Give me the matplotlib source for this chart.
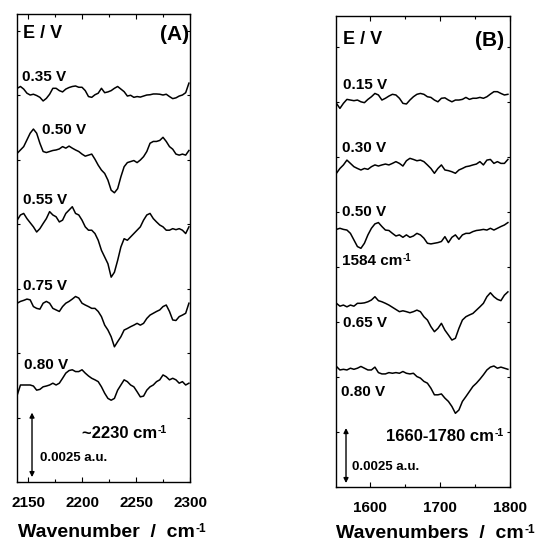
import numpy as np
import matplotlib
matplotlib.use("Agg")
import matplotlib.pyplot as plt
from matplotlib.ticker import MultipleLocator

plt.rcParams["font.family"] = ["Liberation Sans", "DejaVu Sans"]
plt.rcParams["font.weight"] = "bold"

# ---------------- Panel A: 2140-2300 cm-1 region ----------------
wn_a = np.arange(2140, 2301, 3)          # spectral sampling grid
labels_a = ["0.35 V", "0.50 V", "0.55 V", "0.75 V", "0.80 V"]
# stacking offsets (units of 1e-4 a.u.)
offsets_a = [151.2, 127.4, 102.8, 69.3, 37.6]
# delta absorbance, units of 1e-4 a.u.
dA_035 = [1.4, 2.1, 1.1, -0.5, -1.2, -0.9, -1.4, -2.1, -3.5, -2.5, -0.9, 1.4, 1.4, 0.5,
          0.0, 1.1, 1.7, 2.1, 2.3, 1.8, 1.8, 0.5, -1.8, -2.1, -1.1, -0.5, 1.4, -0.3,
          0.0, 0.5, 1.4, 2.1, 1.1, 0.1, -1.6, -1.3, -2.1, -1.8, -2.0, -1.6, -1.2, -1.1,
          -0.8, -0.8, -0.9, -1.2, -0.9, -1.8, -2.6, -2.3, -1.6, -1.2, -0.3, 3.4]
dA_050 = [0.0, 1.3, 2.6, 5.2, 7.8, 9.4, 7.8, 3.9, 0.7, 0.3, 0.7, 1.1, 1.3, 1.7,
          2.6, 2.0, 2.8, 2.0, 1.3, 0.7, -0.3, -1.1, -0.7, -0.3, -2.3, -4.6, -6.5, -7.8,
          -10.4, -14.3, -15.3, -13.7, -9.1, -5.2, -3.6, -3.2, -2.8, -3.6, -2.6, -1.3, 0.7, 3.9,
          4.6, 4.6, 5.0, 6.2, 4.6, 2.6, 1.6, -0.3, -0.7, -0.3, -0.7, 1.1]
dA_055 = [-1.3, 0.7, 1.3, -0.7, -2.3, -3.9, -5.9, -4.6, -2.6, -0.7, 2.0, 0.7, 0.0, -2.0,
          -1.3, 1.3, 2.6, 3.9, 1.3, 0.7, -1.3, -3.9, -5.2, -5.2, -6.5, -9.1, -13.0, -15.6,
          -18.2, -23.4, -21.5, -16.9, -11.7, -8.5, -9.1, -7.8, -6.5, -5.2, -3.9, -1.3, 0.7, 1.3,
          -0.7, -2.0, -3.2, -3.9, -5.2, -5.2, -4.6, -5.0, -4.6, -5.2, -6.5, -3.9]
dA_075 = [0.0, 0.7, 1.1, 1.6, 1.3, -1.3, -2.0, -2.3, 0.0, 0.7, 0.0, -2.0, -2.6, -3.2,
          -1.3, 0.0, 0.7, 1.6, 2.6, 2.0, 0.0, -0.7, -1.3, -2.0, -2.0, -3.2, -5.2, -8.5,
          -10.4, -13.0, -16.9, -14.9, -13.0, -10.4, -9.8, -9.1, -8.5, -7.8, -8.5, -7.8, -5.9, -4.6,
          -3.9, -3.2, -2.6, -1.3, -0.7, -3.2, -6.5, -6.7, -5.2, -4.6, -3.9, 0.0]
dA_080 = [-3.9, 0.0, 0.0, 0.0, 0.0, -0.4, -2.0, -1.7, -0.7, -0.4, 0.0, 0.7, 0.0, 0.7,
          2.6, 4.6, 5.6, 5.9, 5.2, 5.2, 5.9, 4.6, 3.5, 2.6, 2.0, 1.3, -0.7, -3.2,
          -5.2, -5.9, -5.2, -2.0, 0.0, 2.0, 1.3, 0.0, -0.7, -2.6, -4.6, -4.3, -2.0, -0.7,
          0.0, 1.3, 2.0, 3.9, 3.2, 2.0, 2.6, 2.0, 0.7, 1.3, 0.0, 0.7]
spectra_a = [dA_035, dA_050, dA_055, dA_075, dA_080]

# ---------------- Panel B: 1550-1800 cm-1 region ----------------
wn_b = np.arange(1552, 1800, 5)          # spectral sampling grid
labels_b = ["0.15 V", "0.30 V", "0.50 V", "0.65 V", "0.80 V"]
offsets_b = [175.9, 145.6, 117.6, 82.7, 54.0]
dB_015 = [-1.5, -3.8, -1.5, 0.3, 0.0, -0.3, 0.0, -0.8, -1.2, 0.3, 1.5, 3.0, 2.3, 0.0,
          0.8, 1.8, 2.6, 2.3, 0.8, -1.5, -1.8, 0.0, 1.5, 2.6, 3.0, 2.6, 1.5, 1.2,
          0.0, -0.8, 0.8, 1.0, 0.0, -0.8, 0.0, 0.0, 0.3, 1.2, 0.3, 0.8, 0.8, 1.2,
          0.8, 1.5, 2.7, 3.8, 3.8, 3.0, 2.3, 2.6]
dB_030 = [-3.0, -0.8, 0.8, 3.0, 1.5, 0.0, -0.8, -1.5, -0.8, -1.2, 0.0, 0.8, 0.3, 0.8,
          1.2, 0.8, 1.5, 2.3, 1.5, 0.3, 2.7, 3.8, 3.3, 2.7, 3.0, 2.3, 0.8, -0.8,
          -3.0, -0.8, 0.8, -1.5, -1.8, -2.3, -3.0, -1.5, -0.8, 0.0, 0.3, 0.8, 1.2, 2.3,
          0.8, 3.0, 3.3, 1.5, 2.3, 1.5, 1.5, 3.3]
dB_050 = [-0.5, 0.0, -0.5, -0.8, -2.3, -5.3, -8.3, -9.1, -6.8, -3.0, 0.0, 2.0, 2.6, 0.8,
          -0.8, -1.0, -2.3, -3.5, -3.0, -4.1, -3.0, -4.1, -3.5, -2.3, -3.0, -4.5, -6.8, -7.1,
          -6.8, -6.5, -6.0, -3.8, -6.5, -4.1, -3.0, -5.0, -3.0, -2.3, -2.3, -1.5, -1.0, -0.8,
          -0.5, -0.8, 0.0, -0.8, 0.0, 0.8, 1.5, 2.6]
dB_065 = [0.8, -0.5, 0.0, -0.8, 0.0, -0.5, 0.8, 0.8, 1.0, 1.5, 2.3, 3.8, 2.0, 1.5,
          0.8, 0.0, -1.0, -2.0, -3.0, -2.6, -3.0, -3.5, -3.0, -2.3, -3.0, -5.3, -6.8, -9.8,
          -12.1, -10.6, -8.3, -11.4, -13.6, -15.9, -15.1, -10.6, -6.8, -5.3, -4.5, -3.8, -2.3, -0.8,
          0.8, 3.8, 5.6, 3.8, 2.6, 2.0, 4.5, 6.0]
dB_080 = [0.8, -0.8, -0.5, -0.8, 0.0, -0.5, 0.0, 0.8, 0.0, -0.8, -0.8, 0.5, -2.0, -2.6,
          -2.6, -2.0, -2.3, -2.0, -2.3, -1.5, -2.3, -2.6, -2.3, -3.8, -4.5, -6.0, -6.8, -9.1,
          -12.1, -12.1, -11.7, -13.6, -15.1, -17.4, -20.5, -19.0, -15.1, -12.9, -10.6, -8.3, -6.8, -5.0,
          -3.0, -0.8, 0.5, 1.0, 0.0, 0.5, 0.0, -0.5]
spectra_b = [dB_015, dB_030, dB_050, dB_065, dB_080]

SCALE_BAR = 0.0025  # a.u.
UNIT = 1e-4

W, H = 537, 544
fig = plt.figure(figsize=(W / 100, H / 100), dpi=100)

ax_a = fig.add_axes([17 / W, (H - 482) / H, 173 / W, 468 / H])
ax_b = fig.add_axes([336 / W, (H - 487) / H, 174 / W, 471 / H])


def style_axis(ax, xlim, ylim, major, minor):
    ax.set_xlim(*xlim)
    ax.set_ylim(*ylim)
    ax.xaxis.set_major_locator(MultipleLocator(major))
    ax.xaxis.set_minor_locator(MultipleLocator(minor))
    ax.yaxis.set_major_locator(MultipleLocator(SCALE_BAR))
    ax.tick_params(which="both", direction="in", top=True, right=True,
                   width=0.8, labelsize=11, pad=10)
    ax.tick_params(which="major", length=3.5)
    ax.tick_params(which="minor", length=2.5)
    ax.tick_params(axis="y", length=2.5, labelleft=False)
    for lab in ax.get_xticklabels():
        lab.set_fontweight("bold")
    for sp in ax.spines.values():
        sp.set_linewidth(1.0)


def fx(px):
    return px / W


def fy(py):
    return 1 - py / H


def label_with_sup(ax, px, py, main, size, supsize):
    """Bold text followed by a small '-1' superscript."""
    t = fig.text(fx(px), fy(py), main, fontsize=size, fontweight="bold", va="baseline")
    ax.annotate("-1", xy=(1.0, 1.0), xycoords=t, xytext=(0.5, 1.0),
                textcoords="offset points", fontsize=supsize, fontweight="bold",
                ha="left", va="top", annotation_clip=False)
    return t


# Panel A
for dA, off in zip(spectra_a, offsets_a):
    ax_a.plot(wn_a, (np.array(dA) + off) * UNIT, color="black", lw=1.1)
style_axis(ax_a, (2139.8, 2300), (0, 181.4 * UNIT), 50, 25)
ax_a.annotate("", xy=(2153.7, 1.9 * UNIT), xytext=(2153.7, 1.9 * UNIT + SCALE_BAR),
              arrowprops=dict(arrowstyle="<|-|>", color="black", lw=1.0,
                              mutation_scale=7, shrinkA=0, shrinkB=0))

fig.text(fx(23), fy(34), "E / V", fontsize=13, fontweight="bold", va="center")
fig.text(fx(189), fy(34), "(A)", fontsize=15, fontweight="bold", va="center", ha="right")
label_pos_a = [(22, 77), (42, 130), (23, 200), (23, 286), (24, 365)]
for lab, (px, py) in zip(labels_a, label_pos_a):
    fig.text(fx(px), fy(py), lab, fontsize=11, fontweight="bold", va="center")
label_with_sup(ax_a, 82, 438, "~2230 cm", 12, 7.5)
fig.text(fx(40), fy(458), "0.0025 a.u.", fontsize=9.5, fontweight="bold", va="center")
label_with_sup(ax_a, 18, 537, "Wavenumber  /  cm", 14, 8.5)

# Panel B
for dB, off in zip(spectra_b, offsets_b):
    ax_b.plot(wn_b, (np.array(dB) + off) * UNIT, color="black", lw=1.1)
style_axis(ax_b, (1551.4, 1800), (0, 214.1 * UNIT), 100, 50)
ax_b.annotate("", xy=(1565.7, 1.8 * UNIT), xytext=(1565.7, 1.8 * UNIT + SCALE_BAR),
              arrowprops=dict(arrowstyle="<|-|>", color="black", lw=1.0,
                              mutation_scale=7, shrinkA=0, shrinkB=0))

fig.text(fx(343), fy(40), "E / V", fontsize=13, fontweight="bold", va="center")
fig.text(fx(504), fy(40), "(B)", fontsize=15, fontweight="bold", va="center", ha="right")
label_pos_b = [(343, 85), (342, 148), (342, 212), (343, 323), (341, 392)]
for lab, (px, py) in zip(labels_b, label_pos_b):
    fig.text(fx(px), fy(py), lab, fontsize=11, fontweight="bold", va="center")
label_with_sup(ax_b, 342, 265, "1584 cm", 11, 7)
label_with_sup(ax_b, 386, 441, "1660-1780 cm", 12, 7.5)
fig.text(fx(352), fy(467), "0.0025 a.u.", fontsize=9.5, fontweight="bold", va="center")
label_with_sup(ax_b, 336, 538, "Wavenumbers  /  cm", 14, 8.5)

fig.savefig("out.png", dpi=100)
